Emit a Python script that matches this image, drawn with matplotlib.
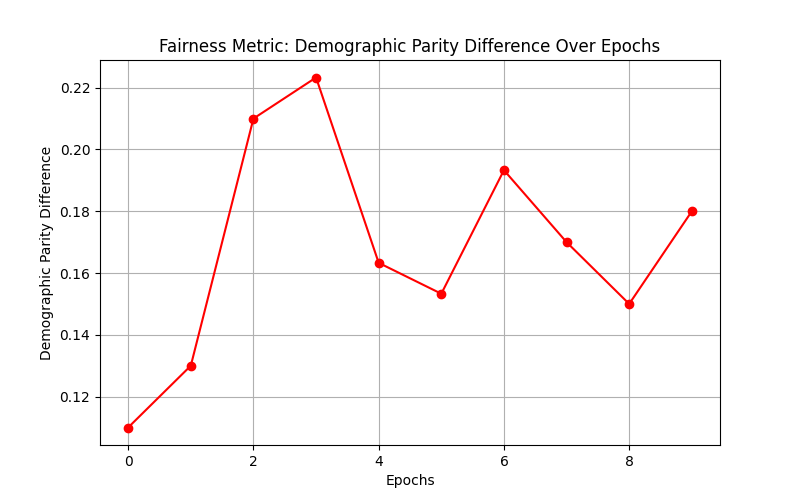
import matplotlib
matplotlib.use("Agg")
import matplotlib.pyplot as plt

epochs = list(range(10))
dp_diff = [0.11, 0.13, 0.21, 0.2233, 0.1633, 0.1533, 0.1933, 0.17, 0.15, 0.18]

fig, ax = plt.subplots(figsize=(8, 5), dpi=100)
ax.plot(epochs, dp_diff, "-o", color="red")
ax.set_title("Fairness Metric: Demographic Parity Difference Over Epochs")
ax.set_xlabel("Epochs")
ax.set_ylabel("Demographic Parity Difference")
ax.grid(True)
fig.savefig("out.png")
